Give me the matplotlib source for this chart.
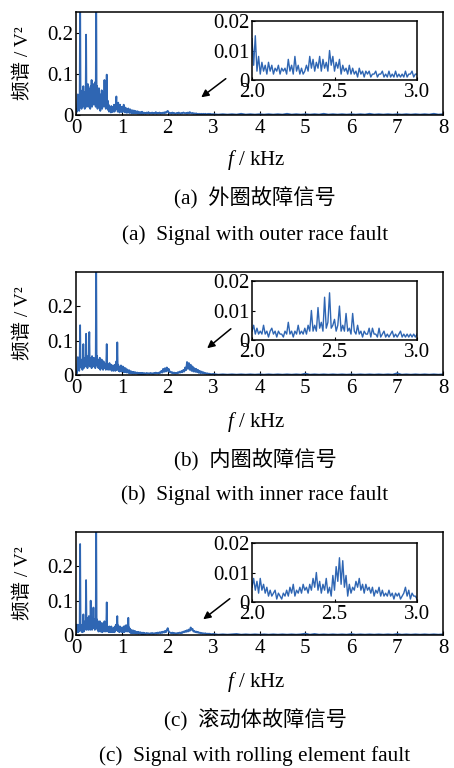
import numpy as np
import matplotlib
matplotlib.use("Agg")
import matplotlib.pyplot as plt

plt.rcParams['font.family'] = ['Liberation Serif', 'Noto Sans CJK SC', 'DejaVu Sans']
plt.rcParams['mathtext.fontset'] = 'custom'
plt.rcParams['mathtext.rm'] = 'Liberation Serif'
plt.rcParams['mathtext.it'] = 'Liberation Serif:italic'

LINE = '#2f66b3'

# ---------------- data (amplitudes in units of 1e-3 V^2) ----------------
# 0.00 - 1.49 kHz, step 0.01 kHz
low_a = [2,15,8,30,50,12,25,10,40,300,
         20,45,15,35,60,20,70,25,55,15,
         45,30,195,20,60,35,75,20,65,30,
         50,15,70,40,85,20,60,35,75,25,
         55,30,80,20,320,25,70,15,55,30,
         65,20,45,10,50,25,60,15,45,30,
         55,20,85,25,50,15,40,98,20,35,
         12,25,8,20,10,18,6,22,9,15,
         7,20,10,25,8,18,12,30,45,15,
         22,8,30,12,18,6,25,10,16,8,
         20,7,15,9,25,8,14,6,18,10,
         15,5,12,8,16,6,11,5,14,7,
         10,4,12,6,9,4,11,5,8,6,
         10,4,7,5,9,3,8,4,6,3,
         7,4,6,3,8,4,5,3,6,4]
low_b = [2,10,5,20,52,15,30,12,40,145,
         25,45,20,35,15,40,90,20,45,30,
         50,25,120,30,55,20,45,35,60,125,
         25,50,30,45,20,55,35,40,25,50,
         30,45,20,40,330,30,55,25,45,20,
         40,30,50,15,40,25,45,20,35,15,
         40,25,35,20,30,15,35,90,20,30,
         15,30,20,35,15,28,18,30,12,25,
         15,28,12,22,15,30,12,25,40,15,
         95,20,30,12,25,10,22,12,28,10,
         20,12,25,10,22,8,18,10,20,8,
         15,7,16,8,12,6,14,5,10,6,
         11,5,9,4,8,5,9,4,7,5,
         8,4,6,5,7,3,6,4,5,3,
         6,4,5,3,6,4,5,3,5,4]
low_c = [2,15,30,10,30,8,20,12,25,265,
         15,30,10,25,8,20,60,10,30,15,
         40,20,160,15,50,20,45,15,55,20,
         40,15,100,20,45,15,50,25,80,20,
         45,15,40,20,330,20,45,15,40,10,
         35,15,40,10,30,15,35,8,30,12,
         35,10,40,15,30,10,25,95,15,25,
         10,22,8,25,10,20,8,25,10,18,
         8,20,10,22,8,25,12,30,15,25,
         55,12,28,10,20,8,25,12,18,10,
         22,8,18,10,25,8,20,12,28,10,
         20,12,30,10,50,12,22,8,18,6,
         15,6,12,5,14,6,10,5,12,5,
         10,4,9,5,8,4,9,4,7,5,
         8,4,7,3,6,4,7,3,6,4]

# 1.50 - 2.98 kHz, step 0.02 kHz
mid_a = [5,3,6,4,7,3,5,4,6,3,5,4,7,3,5,4,6,3,5,4,6,4,7,5,8,
         10,6,4,5,3,6,4,5,3,4,5,3,6,4,3,5,4,6,5,4,5,3,6,4,7,
         5,4,5,3,4,3,4,2,3,2,3,2,3,2,3,2,3,2,2,3,2,3,2,2,2]
mid_b = [5,3,6,4,5,3,6,4,5,3,6,4,7,5,6,4,8,6,12,7,18,9,20,10,22,
         12,18,8,10,6,8,5,7,4,6,5,8,6,10,7,12,8,15,10,22,14,38,18,35,15,
         30,12,25,10,20,9,18,8,15,6,12,5,10,5,8,4,6,3,5,3,4,2,3,2,3]
mid_c = [5,3,6,4,5,3,5,4,6,3,5,4,6,4,7,5,8,5,9,6,10,7,12,8,15,
         20,10,8,6,5,7,4,6,4,5,4,6,5,7,5,8,6,10,8,12,9,14,10,16,12,
         22,15,18,10,12,8,10,7,9,6,7,5,6,4,5,4,5,3,4,3,4,3,3,2,3]

# 3.0 - 8.0 kHz, step 0.1 kHz
tail_a = [2,1,2,1,2,1,3,1,2,1, 2,1,2,1,2,1,3,1,2,1, 2,1,2,1,3,1,2,1,2,1,
          2,1,2,1,3,1,2,1,2,1, 2,1,2,1,2,1,2,1,3,1,2]
tail_b = [3,1,2,1,2,1,2,1,2,1, 2,1,2,1,2,1,2,1,2,1, 4,1,2,1,2,1,2,1,2,1,
          2,1,2,1,2,1,2,1,2,1, 5,1,2,1,2,1,2,1,2,1,2]
tail_c = [3,1,2,1,2,3,1,2,1,2, 1,2,1,2,1,2,1,2,1,2, 4,1,3,1,2,1,2,1,2,1,
          3,1,2,1,2,1,2,1,2,1, 3,1,2,1,2,1,2,1,2,1,2]

# inset: 2.00 - 3.00 kHz, step 0.01 kHz
zoom_a = [14,5,15,3,8,2,6,3,5,2, 6,3,5,2,4,3,5,2,4,3,
          4,2,7,3,5,2,8,3,5,2, 4,2,3,5,3,8,4,7,3,6,
          4,8,3,7,4,6,3,10,5,8, 3,6,4,7,2,5,3,4,2,5,
          2,4,2,3,1,4,2,3,1,3, 2,3,1,2,2,3,1,2,2,3,
          1,2,1,3,1,2,1,3,1,2, 1,2,1,3,1,2,2,3,1,2, 2]
zoom_b = [3,5,2,4,2,3,2,5,2,3, 1,3,4,2,3,1,3,2,2,1,
          3,2,6,2,3,1,3,2,5,2, 3,2,4,2,5,3,10,3,5,3,
          11,4,6,3,14.5,4,6,16,4,5, 7,3,5,11.5,3,5,3,9,3,4,
          2,9,3,2,5,2,3,1,3,2, 2,4,1,4,2,2,1,4,1,2,
          3,1,2,1,2,3,1,2,1,2, 3,1,2,1,2,1,2,1,2,1, 2]
zoom_c = [5,8,4,7,3,8,4,6,3,5, 2,4,2,3,4,1,3,2,1,3,
          2,4,2,5,3,6,2,4,3,5, 3,6,4,5,3,6,4,8,5,10,
          4,7,3,6,4,8,3,5,2,9, 4,12,7,15,6,14,5,9,2,6,
          3,5,4,7,5,8,4,6,3,6, 4,5,3,5,2,4,3,5,2,4,
          2,3,2,4,2,3,1,3,2,3, 1,2,3,5,2,4,1,3,2,2, 1]

main_amps = [(low_a, mid_a, tail_a), (low_b, mid_b, tail_b), (low_c, mid_c, tail_c)]
zoom_amps = [zoom_a, zoom_b, zoom_c]
ylims = [0.25, 0.3, 0.3]
yticks_main = [0, 0.1, 0.2]
ytick_labels_main = ['0', '0.1', '0.2']
xticks_main = [0, 1, 2, 3, 4, 5, 6, 7, 8]
zoom_xticks = [2.0, 2.5, 3.0]
zoom_yticks = [0, 0.01, 0.02]
captions_cn = ['(a)  外圈故障信号', '(b)  内圈故障信号', '(c)  滚动体故障信号']
captions_en = ['(a)  Signal with outer race fault', '(b)  Signal with inner race fault',
               '(c)  Signal with rolling element fault']

# ---------------- layout ----------------
W, H = 454, 768
fig = plt.figure(figsize=(W / 100, H / 100), dpi=100)

def fx(px):
    return px / W

def fy(py):
    return 1 - py / H

main_top = [12, 272, 532]
main_h = 103
inset_top = [21, 281, 543]
inset_h = 59
xlab_y = [160, 422, 682]
cn_y = [198, 460, 719]
en_y = [235, 495, 756]
arrows = [((228, 77), (199, 99)), ((233, 327), (205, 350)), ((232, 597), (201, 621))]

FS = 15
CAP = 15.3

for i in range(3):
    lo, mi, ta = main_amps[i]
    f_low = np.arange(len(lo)) * 0.01
    f_mid = 1.5 + np.arange(len(mi)) * 0.02
    f_tail = 3.0 + np.arange(len(ta)) * 0.1
    f = np.concatenate([f_low, f_mid, f_tail])
    a = np.concatenate([lo, mi, ta]) * 1e-3

    ax = fig.add_axes([fx(76), fy(main_top[i] + main_h), fx(443 - 76), main_h / H])
    ax.plot(f, a, color=LINE, lw=1.3)
    ax.set_xlim(0, 8)
    ax.set_ylim(0, ylims[i])
    ax.set_xticks(xticks_main)
    ax.set_xticklabels([str(t) for t in xticks_main])
    ax.set_yticks(yticks_main)
    ax.set_yticklabels(ytick_labels_main)
    ax.tick_params(direction='in', length=3, width=0.8, labelsize=FS, pad=2)
    ax.tick_params(axis='x', pad=3)
    for s in ax.spines.values():
        s.set_linewidth(1.1)
    ax.set_ylabel('频谱 / V²', fontsize=14)
    ax.yaxis.label.set_verticalalignment('center')
    ax.yaxis.set_label_coords((23 - 76) / 367, 0.5)
    ax.set_xlabel('$f$ / kHz', fontsize=FS)
    ax.xaxis.set_label_coords(0.49, -(xlab_y[i] - main_top[i] - main_h) / main_h)
    ax.xaxis.label.set_verticalalignment('center')

    # inset
    za = np.array(zoom_amps[i]) * 1e-3
    zf = 2.0 + np.arange(len(za)) * 0.01
    axi = fig.add_axes([fx(252), fy(inset_top[i] + inset_h), fx(417 - 252), inset_h / H])
    axi.plot(zf, za, color=LINE, lw=1.0)
    axi.set_xlim(2.0, 3.0)
    axi.set_ylim(0, 0.02)
    axi.set_xticks(zoom_xticks)
    axi.set_xticklabels(['2.0', '2.5', '3.0'])
    axi.set_yticks(zoom_yticks)
    axi.set_yticklabels(['0', '0.01', '0.02'])
    axi.tick_params(direction='in', length=2, width=0.8, labelsize=FS, pad=2)
    for s in axi.spines.values():
        s.set_linewidth(1.1)

    (x0, y0), (x1, y1) = arrows[i]
    fig.add_artist(matplotlib.patches.FancyArrowPatch(
        (fx(x0), fy(y0)), (fx(x1), fy(y1)), transform=fig.transFigure,
        arrowstyle='-|>', mutation_scale=11, lw=1.1, color='black'))

    fig.text(fx(255), fy(cn_y[i]), captions_cn[i], ha='center', va='center', fontsize=CAP)
    fig.text(fx(255), fy(en_y[i]), captions_en[i], ha='center', va='center', fontsize=CAP)

fig.savefig('out.png', dpi=100, facecolor='white')
